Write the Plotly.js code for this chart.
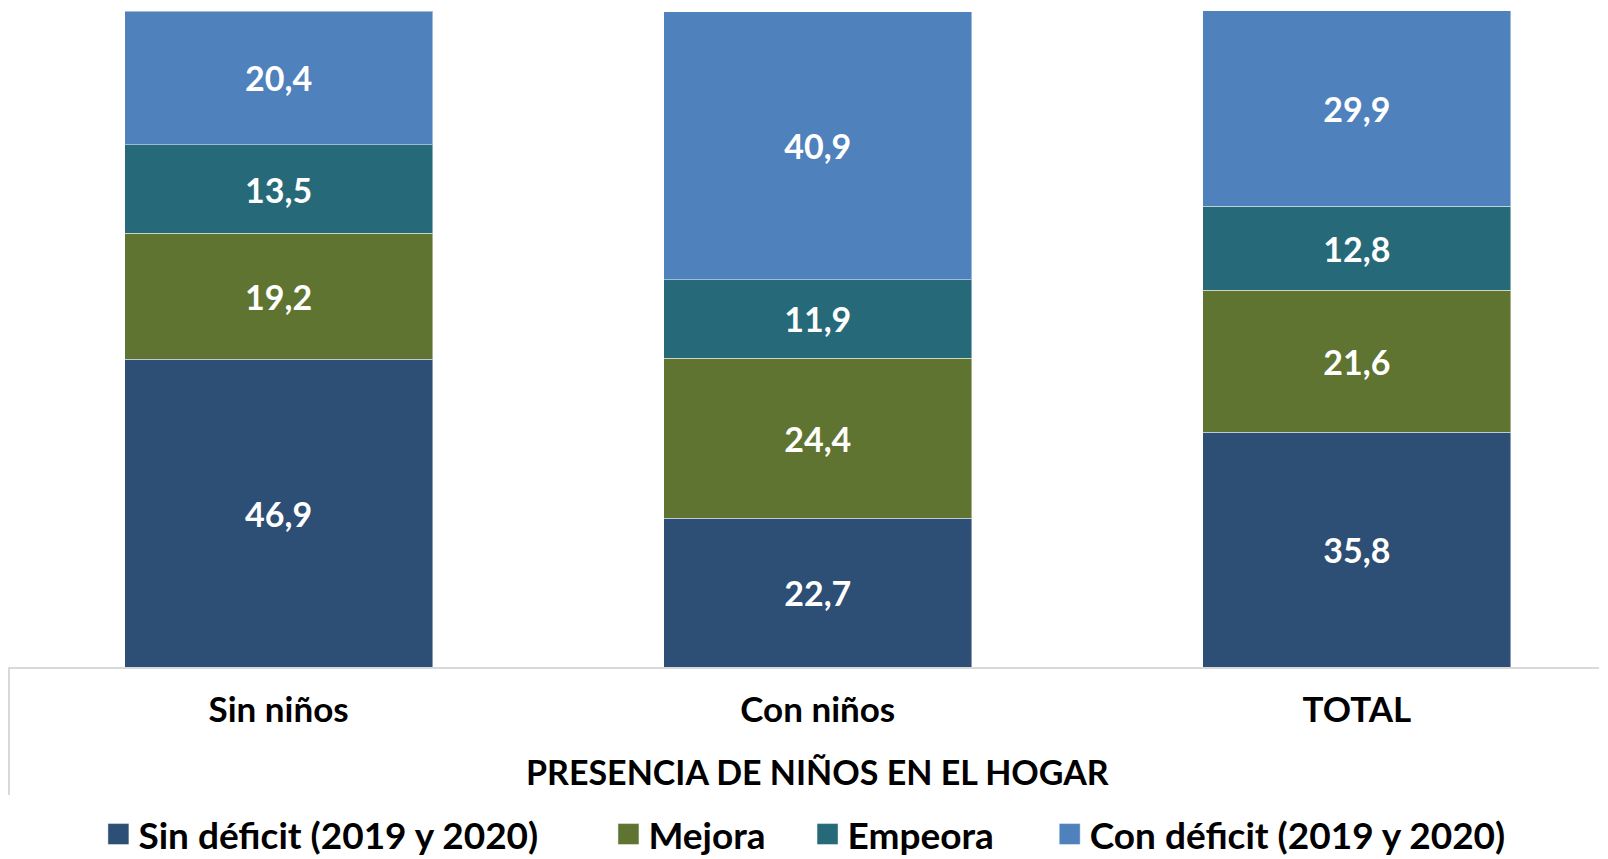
<!DOCTYPE html>
<html>
<head>
<meta charset="utf-8">
<script src="https://cdn.plot.ly/plotly-3.0.1.min.js"></script>
<style>
  html, body { margin: 0; padding: 0; background: #ffffff; }
  #chart { width: 1608px; height: 859px; }
</style>
</head>
<body>
<div id="chart"></div>
<script>
// ---- data ----
var categories = ["Sin niños", "Con niños", "TOTAL"];
var seriesNames = ["Sin déficit (2019 y 2020)", "Mejora", "Empeora", "Con déficit (2019 y 2020)"];
var sinDeficit = [46.9, 22.7, 35.8];
var mejora     = [19.2, 24.4, 21.6];
var empeora    = [13.5, 11.9, 12.8];
var conDeficit = [20.4, 40.9, 29.9];
var axisTitle = "PRESENCIA DE NIÑOS EN EL HOGAR";

var seriesValues = [sinDeficit, mejora, empeora, conDeficit];
var colors = ["#2D4E75", "#5F7430", "#266A7A", "#4F81BD"];
var FONT = "Lato, 'Open Sans', sans-serif";

var legendIds = ["legend", "legend2", "legend3", "legend4"];
var legendX = [0.0612, 0.3784, 0.5022, 0.6528];

var traces = seriesValues.map(function (vals, i) {
  return {
    type: "bar",
    name: seriesNames[i],
    x: categories,
    y: vals,
    legend: legendIds[i],
    marker: { color: colors[i], line: { color: "rgba(255,255,255,0.45)", width: 1 } },
    texttemplate: "%{y:.1f}",
    textposition: "inside",
    insidetextanchor: "middle",
    textangle: 0,
    constraintext: "none",
    textfont: { family: FONT, size: 34, color: "#ffffff", weight: 700 },
    hoverinfo: "x+y+name"
  };
});

var legendBase = {
  orientation: "h",
  xref: "container", yref: "container",
  xanchor: "left", yanchor: "middle",
  y: 0.0285,
  bgcolor: "rgba(0,0,0,0)",
  borderwidth: 0,
  font: { family: FONT, size: 37, color: "#000000", weight: 700 }
};

var layout = {
  width: 1608,
  height: 859,
  margin: { l: 9, r: 9, t: 11, b: 192, pad: 0 },
  paper_bgcolor: "#ffffff",
  plot_bgcolor: "#ffffff",
  barmode: "stack",
  bargap: 0.4286,
  separators: ",.",
  showlegend: true,
  font: { family: FONT, color: "#000000" },
  xaxis: {
    type: "category",
    range: [-0.5, 2.449],
    showline: true,
    linecolor: "#d9d9d9",
    linewidth: 2,
    ticks: "",
    showgrid: false,
    zeroline: false,
    automargin: false,
    ticklabelstandoff: 11,
    tickfont: { family: FONT, size: 35, color: "#000000", weight: 700 },
    fixedrange: true
  },
  yaxis: {
    range: [0, 100],
    visible: false,
    showgrid: false,
    zeroline: false,
    automargin: false,
    fixedrange: true
  },
  shapes: [
    { type: "line", xref: "paper", yref: "paper", x0: 0, x1: 0, y0: 0, y1: -0.195,
      line: { color: "#d9d9d9", width: 2 } }
  ],
  annotations: [
    { text: axisTitle, xref: "x", yref: "paper", x: 1, y: -0.159,
      xanchor: "center", yanchor: "middle", showarrow: false,
      font: { family: FONT, size: 34, color: "#000000", weight: 700 } }
  ]
};

legendIds.forEach(function (id, i) {
  layout[id] = Object.assign({}, legendBase, { x: legendX[i] });
});

Plotly.newPlot("chart", traces, layout, { displayModeBar: false, staticPlot: true }).then(function (gd) {
  // enlarge legend squares to match the reference swatch size
  var paths = gd.querySelectorAll(".legendpoints path");
  paths.forEach(function (p) { p.setAttribute("d", "M10.5,10.5H-10.5V-10.5H10.5Z"); });
});
</script>
</body>
</html>
